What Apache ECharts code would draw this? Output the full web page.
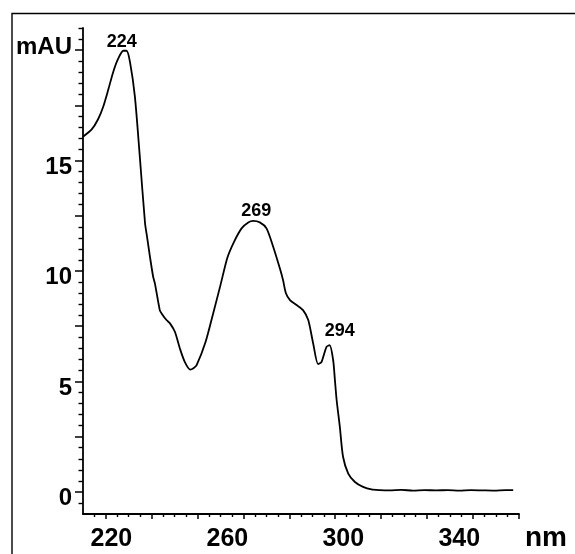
<!DOCTYPE html>
<html>
<head>
<meta charset="utf-8">
<script src="https://cdn.jsdelivr.net/npm/echarts@6/dist/echarts.min.js"></script>
<style>
html,body{margin:0;padding:0;background:#fff;}
#c{width:575px;height:554px;}
</style>
</head>
<body>
<div id="c"></div>
<script>
// wavelength (nm) and absorbance (mAU)
const wavelengths = [210.2,213.2,215.4,217.2,218.9,220.6,222.3,224.1,225.2,226.4,228.1,229.8,231.6,232.3,233.3,234.4,235.0,236.7,237.3,239.0,240.2,241.9,243.6,245.3,247.2,248.3,249.4,252.5,255.1,257.6,260.0,262.3,264.9,267.2,268.9,271.2,273.5,275.8,278.1,279.2,280.2,281.6,283.9,286.1,287.9,289.6,291.3,292.5,294.2,295.3,296.5,297.1,297.7,298.8,299.9,301.7,304.0,306.8,309.7,312.6,316,320,324,328,332,336,340,344,348,352,356,358.6];
const absorbance  = [16.08,16.41,16.87,17.45,18.2,19.0,19.6,19.97,19.97,19.47,17.89,15.17,12.16,11.55,10.64,9.74,9.44,8.22,8.08,7.78,7.63,7.25,6.5,5.89,5.54,5.6,5.74,6.8,8.08,9.35,10.6,11.32,11.93,12.2,12.27,12.2,11.93,11.1,10.12,9.59,8.99,8.68,8.46,8.23,7.78,6.72,5.78,5.89,6.57,6.64,5.96,5.06,4.15,2.94,1.59,0.83,0.45,0.23,0.11,0.08,0.07,0.09,0.06,0.08,0.07,0.08,0.06,0.08,0.07,0.06,0.08,0.08];

// peak annotations
const peakNames = ['224','269','294'];
const peakX = [224.6, 268.9, 295.3];
const peakY = [19.97, 12.27, 6.64];

// axis labels and tick marks
const xLabels = [220,260,300,340];
const xMajorTicks = [218.03,233.86,249.68,265.54,281.37,297.20,313.03,328.86,344.72,360.55];
const xMinorTicks = [214.07,222.0,225.95,229.91,237.82,241.78,245.73,253.64,257.6,261.57,269.5,273.45,277.41,285.33,289.29,293.25,301.16,305.12,309.08,316.99,320.95,324.9,332.82,336.78,340.75,348.68,352.63,356.59];
const yLabels = [0,5,10,15];
const yUnitLabel = 'mAU';
const yUnitAt = 20;
const yMajorTicks = [0,2.5,5,7.5,10,12.5,15,17.5,20];
const yMinorTicks = [-0.5,0.5,1,1.5,2,3,3.5,4,4.5,5.5,6,6.5,7,8,8.5,9,9.5,10.5,11,11.5,12,13,13.5,14,14.5,15.5,16,16.5,17,18,18.5,19,19.5,20.5,21];
const xName = 'nm';

const X_MIN = 210.2, X_MAX = 360.6, Y_MIN = -1, Y_MAX = 21;
const FONT = '"Liberation Sans", Arial, sans-serif';

const chart = echarts.init(document.getElementById('c'), null, {renderer:'canvas'});
const gridPos = {left:83, right:56, top:28, bottom:40};

const peakOffsets = [[-3,0],[3,0],[10,0]];
const peakDist = [0,1,5];

chart.setOption({
  animation:false,
  backgroundColor:'#fff',
  grid:[Object.assign({}, gridPos), Object.assign({}, gridPos)],
  graphic:[{
    type:'rect', left:9.5, top:11, silent:true,
    shape:{width:620, height:620},
    style:{fill:'none', stroke:'#000', lineWidth:1.4}
  }],
  xAxis:[{
    type:'value', gridIndex:0, min:X_MIN, max:X_MAX,
    name:xName, nameLocation:'end', nameGap:6,
    nameTextStyle:{fontFamily:FONT, fontWeight:'bold', fontSize:28, color:'#000', verticalAlign:'top', padding:[10,0,0,0]},
    axisLine:{show:true, onZero:false, lineStyle:{color:'#000', width:1.8}},
    axisTick:{show:true, customValues:xMajorTicks, length:5, lineStyle:{color:'#000', width:1.5}},
    axisLabel:{show:true, customValues:xLabels, margin:13, fontFamily:FONT, fontWeight:'bold', fontSize:25, color:'#000'},
    splitLine:{show:false}
  },{
    type:'value', gridIndex:1, min:X_MIN, max:X_MAX,
    axisLine:{show:false, onZero:false},
    axisTick:{show:true, customValues:xMinorTicks, length:3, lineStyle:{color:'#000', width:1.4}},
    axisLabel:{show:false},
    splitLine:{show:false}
  }],
  yAxis:[{
    type:'value', gridIndex:0, min:Y_MIN, max:Y_MAX,
    axisLine:{show:true, onZero:false, lineStyle:{color:'#000', width:1.8}},
    axisTick:{show:true, customValues:yMajorTicks, length:8, lineStyle:{color:'#000', width:1.5}},
    axisLabel:{show:true, customValues:yLabels, margin:11, verticalAlign:'top', lineHeight:13, fontFamily:FONT, fontWeight:'bold', fontSize:24, color:'#000'},
    splitLine:{show:false}
  },{
    type:'value', gridIndex:1, min:Y_MIN, max:Y_MAX,
    axisLine:{show:false, onZero:false},
    axisTick:{show:true, customValues:yMinorTicks, length:4.5, lineStyle:{color:'#000', width:1.4}},
    axisLabel:{show:true, customValues:[yUnitAt], formatter:function(){return yUnitLabel;}, margin:11, verticalAlign:'bottom', lineHeight:6, fontFamily:FONT, fontWeight:'bold', fontSize:24, color:'#000'},
    splitLine:{show:false}
  }],
  series:[{
    type:'line', xAxisIndex:0, yAxisIndex:0,
    data:wavelengths.map((w,i)=>[w, absorbance[i]]),
    showSymbol:false, smooth:0.25,
    lineStyle:{color:'#000', width:1.8},
    itemStyle:{color:'#000'},
    markPoint:{
      symbol:'circle', symbolSize:0, silent:true,
      data:peakNames.map((n,i)=>({
        name:n, coord:[peakX[i], peakY[i]],
        label:{show:true, formatter:n, position:'top', distance:peakDist[i], offset:peakOffsets[i],
               fontFamily:FONT, fontWeight:'bold', fontSize:18, color:'#000'}
      }))
    }
  }]
});
</script>
</body>
</html>
